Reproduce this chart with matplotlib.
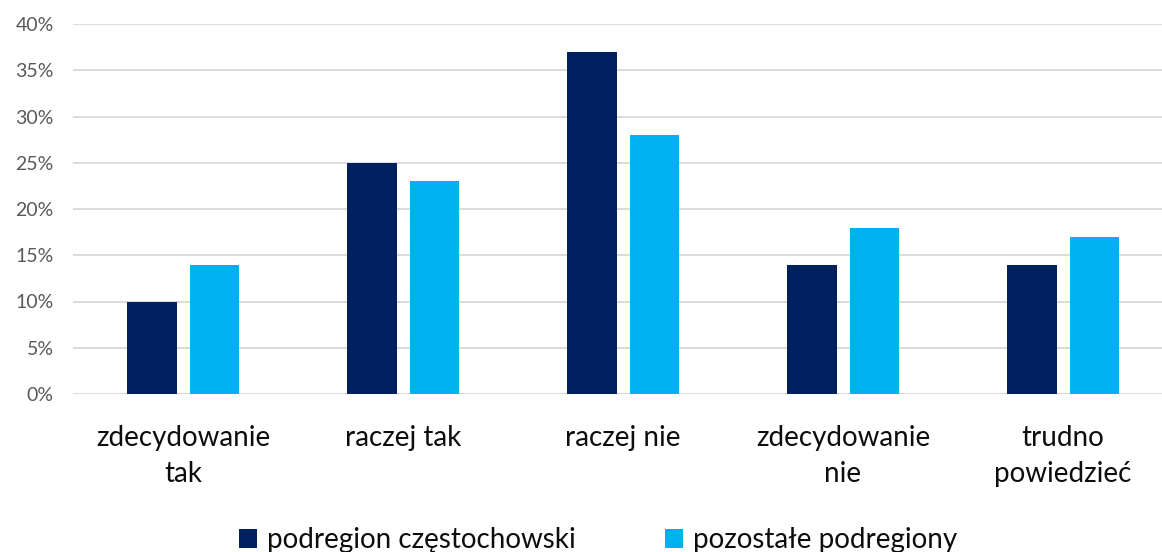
import numpy as np
import matplotlib.pyplot as plt
from matplotlib.ticker import FuncFormatter

categories = ["zdecydowanie\ntak", "raczej tak", "raczej nie", "zdecydowanie\nnie", "trudno\npowiedzieć"]
czestochowski = [10, 25, 37, 14, 14]
pozostale = [14, 23, 28, 18, 17]
series_names = ["podregion częstochowski", "pozostałe podregiony"]

plt.rcParams['font.family'] = ['Lato', 'DejaVu Sans']

fig = plt.figure(figsize=(11.62, 5.52), dpi=100)
ax = fig.add_axes([73 / 1162, (552 - 394) / 552, 1100 / 1162, 370 / 552])

x = np.arange(len(categories))
w = 0.223
ax.bar(x - 0.141, czestochowski, w, color='#002060', label=series_names[0], zorder=3)
ax.bar(x + 0.143, pozostale, w, color='#00B0F0', label=series_names[1], zorder=3)

ax.set_xlim(-0.5, 4.5)
ax.set_ylim(0, 40)
ax.set_yticks(np.arange(0, 41, 5))
ax.yaxis.set_major_formatter(FuncFormatter(lambda v, p: f"{int(v)}%"))
ax.grid(axis='y', color='#D9D9D9', linewidth=1.3, zorder=0)
for s in ax.spines.values():
    s.set_visible(False)
ax.tick_params(axis='both', length=0)
ax.tick_params(axis='y', labelsize=14, labelcolor='#595959', pad=14)
ax.set_xticks(x)
ax.set_xticklabels(categories, fontsize=20, color='#0D0D0D', linespacing=1.5)
ax.tick_params(axis='x', pad=22)

ax.legend(loc='center', bbox_to_anchor=(598 / 1162, 12 / 552), bbox_transform=fig.transFigure,
          ncol=2, frameon=False, fontsize=20, handlelength=0.65, handleheight=0.65,
          handletextpad=0.35, columnspacing=3.2, labelcolor='#0D0D0D')

fig.savefig('out.png', dpi=100)
